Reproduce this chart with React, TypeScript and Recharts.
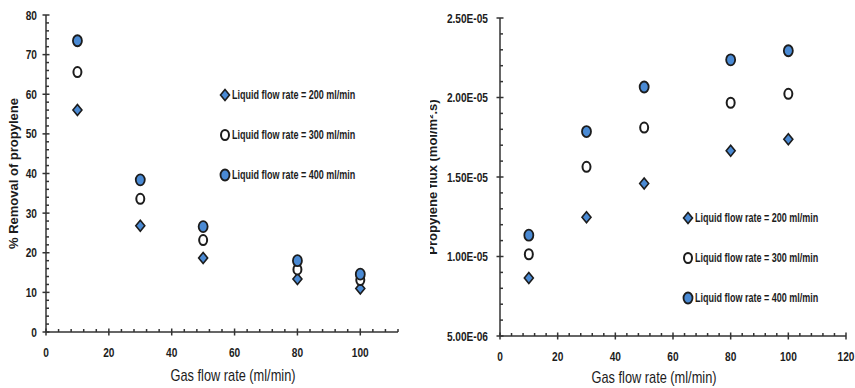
import React from "react";
import { ScatterChart, Scatter, XAxis, YAxis, Legend } from "recharts";

const gasFlow = [10, 30, 50, 80, 100];

// % removal of propylene (left chart)
const removal200 = [56, 26.8, 18.7, 13.4, 11];
const removal300 = [65.6, 33.6, 23.2, 15.8, 13.1];
const removal400 = [73.5, 38.4, 26.6, 18, 14.6];

// propylene flux, mol/m2.s (right chart)
const flux200 = [8.65e-6, 1.247e-5, 1.459e-5, 1.665e-5, 1.738e-5];
const flux300 = [1.014e-5, 1.564e-5, 1.811e-5, 1.967e-5, 2.023e-5];
const flux400 = [1.134e-5, 1.786e-5, 2.066e-5, 2.237e-5, 2.294e-5];

const seriesNames = [
  "Liquid flow rate = 200 ml/min",
  "Liquid flow rate = 300 ml/min",
  "Liquid flow rate = 400 ml/min",
];

const removalTicks = [0, 10, 20, 30, 40, 50, 60, 70, 80];
const fluxTicks = [5e-6, 1e-5, 1.5e-5, 2e-5, 2.5e-5];
const leftXTicks = [0, 20, 40, 60, 80, 100];
const rightXTicks = [0, 20, 40, 60, 80, 100, 120];

const toPoints = (ys: number[]) => gasFlow.map((x, i) => ({ x, y: ys[i] }));

// minor tick positions (every step between min and max)
const steps = (min: number, max: number, step: number) => {
  const out: number[] = [];
  const n = Math.round((max - min) / step);
  for (let i = 0; i <= n; i++) out.push(min + i * step);
  return out;
};

const BLUE = "#4a8ad4";
const DARK = "#1c1c1c";
const AXIS = "#333";
const SANS = "'Liberation Sans', Arial, sans-serif";

const isMajor = (v: number, majors: number[]) =>
  majors.some((m) => Math.abs(m - v) < Math.abs(m) * 1e-6 + 1e-12);

const fmtExp = (v: number) => {
  const [m, e] = v.toExponential(2).split("e");
  const n = Number(e);
  return `${m}E${n < 0 ? "-" : "+"}${String(Math.abs(n)).padStart(2, "0")}`;
};

// squeezed text, the original uses a condensed (Calibri-like) face
const NarrowText = ({
  x,
  y,
  anchor = "middle",
  size = 12,
  bold = false,
  sx = 0.8,
  rotate = 0,
  children,
}: any) => (
  <text
    transform={`translate(${x},${y}) rotate(${rotate}) scale(${sx},1)`}
    textAnchor={anchor}
    fontFamily={SANS}
    fontWeight={bold ? "bold" : "normal"}
    fontSize={size}
    fill={DARK}
  >
    {children}
  </text>
);

const DiamondShape = (props: any) => {
  const { cx, cy } = props;
  if (cx == null || cy == null) return <g />;
  return (
    <polygon
      points={`${cx},${cy - 5.5} ${cx + 4.5},${cy} ${cx},${cy + 5.5} ${cx - 4.5},${cy}`}
      fill={BLUE}
      stroke={DARK}
      strokeWidth={1.6}
    />
  );
};

const OpenShape = (props: any) => {
  const { cx, cy } = props;
  if (cx == null || cy == null) return <g />;
  return <ellipse cx={cx} cy={cy} rx={4} ry={5} fill="#fff" stroke={DARK} strokeWidth={2} />;
};

const FilledShape = (props: any) => {
  const { cx, cy } = props;
  if (cx == null || cy == null) return <g />;
  return <ellipse cx={cx} cy={cy} rx={4.5} ry={5.5} fill={BLUE} stroke={DARK} strokeWidth={1.8} />;
};

const makeXTick = (majors: number[]) => (props: any) => {
  const { x, y, payload } = props;
  const v = payload.value;
  if (isMajor(v, majors)) {
    return (
      <g>
        <line x1={x} x2={x} y1={y - 3.5} y2={y + 3.5} stroke={AXIS} strokeWidth={1.5} />
        <NarrowText x={x} y={y + 24.5} bold size={13} sx={0.78}>
          {v}
        </NarrowText>
      </g>
    );
  }
  return <line x1={x} x2={x} y1={y} y2={y - 3} stroke={AXIS} strokeWidth={1.5} />;
};

const makeYTick = (majors: number[], gap: number, fmt: (v: number) => string) => (props: any) => {
  const { x, y, payload } = props;
  const v = payload.value;
  if (isMajor(v, majors)) {
    return (
      <g>
        <line x1={x - 3.5} x2={x + 3.5} y1={y} y2={y} stroke={AXIS} strokeWidth={1.5} />
        <NarrowText x={x - gap} y={y + 4.5} anchor="end" bold size={13} sx={0.78}>
          {fmt(v)}
        </NarrowText>
      </g>
    );
  }
  return <line x1={x} x2={x + 3} y1={y} y2={y} stroke={AXIS} strokeWidth={1.5} />;
};

// x title: dx shifts from the plot centre, baseline measured from the axis line
const makeXTitle = (dx: number, baseline: number) => (props: any) => {
  const vb = props.viewBox;
  return (
    <NarrowText x={vb.x + vb.width / 2 + dx} y={vb.y + baseline} size={16} sx={0.8}>
      Gas flow rate (ml/min)
    </NarrowText>
  );
};

const makeYTitle = (text: string, cx: number) => (props: any) => {
  const vb = props.viewBox;
  return (
    <NarrowText x={cx} y={vb.y + vb.height / 2} rotate={-90} bold size={13} sx={1}>
      <tspan dy={4.5}>{text}</tspan>
    </NarrowText>
  );
};

const LegendIcon = ({ index }: { index: number }) => (
  <svg width={12} height={14} style={{ display: "block", flexShrink: 0 }}>
    {index === 0 && <DiamondShape cx={6} cy={7} />}
    {index === 1 && <OpenShape cx={6} cy={7} />}
    {index === 2 && <FilledShape cx={6} cy={7} />}
  </svg>
);

const renderLegend = () => (
  <div>
    {seriesNames.map((name, i) => (
      <div key={name} style={{ display: "flex", alignItems: "center", height: 40 }}>
        <LegendIcon index={i} />
        <span
          style={{
            fontFamily: SANS,
            fontWeight: "bold",
            fontSize: 12,
            color: DARK,
            marginLeft: 1,
            whiteSpace: "nowrap",
            display: "inline-block",
            flexShrink: 0,
            transform: "scaleX(0.75)",
            transformOrigin: "left center",
          }}
        >
          {name}
        </span>
      </div>
    ))}
  </div>
);

const axisLine = { stroke: AXIS, strokeWidth: 1.5 };

export default function App() {
  return (
    <div style={{ position: "absolute", left: 0, top: 0, width: 855, height: 388, background: "#fff" }}>
      <div style={{ position: "absolute", left: 0, top: 0 }}>
        <ScatterChart width={420} height={388} margin={{ top: 15, right: 22, bottom: 0, left: 0 }}>
          <XAxis
            type="number"
            dataKey="x"
            domain={[0, 112]}
            ticks={steps(0, 112, 4)}
            interval={0}
            height={56}
            axisLine={axisLine}
            tickLine={false}
            tickSize={0}
            tickMargin={0}
            tick={makeXTick(leftXTicks)}
            label={{ content: makeXTitle(11, 49) }}
          />
          <YAxis
            type="number"
            dataKey="y"
            domain={[0, 80]}
            ticks={steps(0, 80, 2)}
            interval={0}
            width={46}
            axisLine={axisLine}
            tickLine={false}
            tickSize={0}
            tickMargin={0}
            tick={makeYTick(removalTicks, 9, (v) => String(v))}
            label={{ content: makeYTitle("% Removal of propylene", 13) }}
          />
          <Scatter name={seriesNames[0]} data={toPoints(removal200)} shape={DiamondShape} isAnimationActive={false} />
          <Scatter name={seriesNames[1]} data={toPoints(removal300)} shape={OpenShape} isAnimationActive={false} />
          <Scatter name={seriesNames[2]} data={toPoints(removal400)} shape={FilledShape} isAnimationActive={false} />
          <Legend
            layout="vertical"
            align="center"
            verticalAlign="middle"
            content={renderLegend}
            wrapperStyle={{ left: 219, top: 75, width: 190, height: 120 }}
          />
        </ScatterChart>
      </div>
      <div style={{ position: "absolute", left: 430, top: 0 }}>
        <ScatterChart width={425} height={388} margin={{ top: 18, right: 9, bottom: 0, left: 0 }}>
          <XAxis
            type="number"
            dataKey="x"
            domain={[0, 120]}
            ticks={steps(0, 120, 4)}
            interval={0}
            height={52}
            axisLine={axisLine}
            tickLine={false}
            tickSize={0}
            tickMargin={0}
            tick={makeXTick(rightXTicks)}
            label={{ content: makeXTitle(-19, 47) }}
          />
          <YAxis
            type="number"
            dataKey="y"
            domain={[5e-6, 2.5e-5]}
            ticks={steps(5e-6, 2.5e-5, 1e-6)}
            interval={0}
            width={70}
            axisLine={axisLine}
            tickLine={false}
            tickSize={0}
            tickMargin={0}
            tick={makeYTick(fluxTicks, 12, fmtExp)}
            label={{ content: makeYTitle("Propylene flux (mol/m\u00b2.s)", 2) }}
          />
          <Scatter name={seriesNames[0]} data={toPoints(flux200)} shape={DiamondShape} isAnimationActive={false} />
          <Scatter name={seriesNames[1]} data={toPoints(flux300)} shape={OpenShape} isAnimationActive={false} />
          <Scatter name={seriesNames[2]} data={toPoints(flux400)} shape={FilledShape} isAnimationActive={false} />
          <Legend
            layout="vertical"
            align="center"
            verticalAlign="middle"
            content={renderLegend}
            wrapperStyle={{ left: 252, top: 198, width: 170, height: 120 }}
          />
        </ScatterChart>
      </div>
    </div>
  );
}
